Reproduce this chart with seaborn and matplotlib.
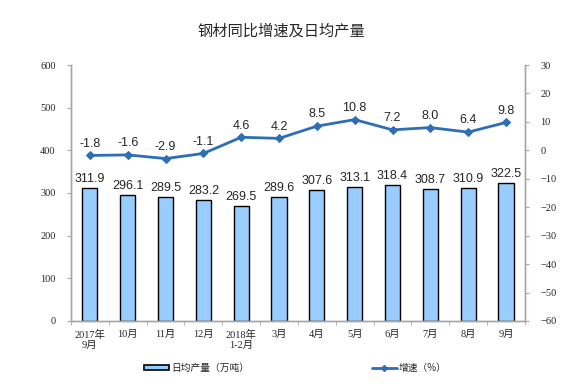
import numpy as np
import pandas as pd
import seaborn as sns
from matplotlib import pyplot as plt
from matplotlib.patches import Patch
from matplotlib.lines import Line2D

# data
months = ['2017年\n9月', '10月', '11月', '12月', '2018年\n1-2月', '3月', '4月',
          '5月', '6月', '7月', '8月', '9月']
output = [311.9, 296.1, 289.5, 283.2, 269.5, 289.6, 307.6, 313.1, 318.4, 308.7, 310.9, 322.5]
growth = [-1.8, -1.6, -2.9, -1.1, 4.6, 4.2, 8.5, 10.8, 7.2, 8.0, 6.4, 9.8]

sns.set_style('white')
plt.rcParams['font.family'] = ['Noto Sans CJK SC', 'DejaVu Sans']

df = pd.DataFrame({'month': months, 'pos': np.arange(len(months)),
                   'output': output, 'growth': growth})

fig = plt.figure(figsize=(5.8, 3.86), dpi=100)
ax = fig.add_axes([0.1224, 0.1684, 0.7826, 0.6632])

bar_col = '#99CCFF'
line_col = '#2E6EB5'
grey = '#A6A6A6'

sns.barplot(data=df, x='pos', y='output', color=bar_col, edgecolor='black',
            linewidth=1.0, width=0.4, saturation=1, ax=ax)
for p, v in zip(df['pos'], df['output']):
    ax.text(p, v + 7, f'{v:.1f}', ha='center', va='bottom', fontsize=9,
            family=['Liberation Sans', 'DejaVu Sans'])

ax.set_ylim(0, 600)
ax.set_yticks(range(0, 601, 100))
ax.set_xlim(-0.5, len(months) - 0.5)
ax.set_xticks(df['pos'])
ax.set_xticklabels(months)
ax.set_xlabel('')
ax.set_ylabel('')

ax2 = ax.twinx()
sns.lineplot(data=df, x='pos', y='growth', color=line_col, marker='D',
             markersize=4.5, markeredgecolor=line_col, linewidth=2, ax=ax2)
for p, v in zip(df['pos'], df['growth']):
    ax2.text(p, v + 2.0, f'{v:.1f}', ha='center', va='bottom', fontsize=9,
             family=['Liberation Sans', 'DejaVu Sans'])
ax2.set_ylim(-60, 30)
ax2.set_yticks(range(-60, 31, 10))
ax2.set_ylabel('')
ax2.set_xlabel('')

for a in (ax, ax2):
    a.spines['top'].set_visible(False)
    for s in ('left', 'right', 'bottom'):
        a.spines[s].set_color(grey)
        a.spines[s].set_linewidth(1)

ax.tick_params(axis='y', left=True, length=3, color=grey, labelsize=7.5, pad=8)
ax2.tick_params(axis='y', right=True, length=3, color=grey, labelsize=7.5, pad=8)
for lab in ax.get_yticklabels() + ax2.get_yticklabels():
    lab.set_family(['Liberation Serif', 'DejaVu Serif'])

# x ticks: labels at centres, small marks at category boundaries
ax.tick_params(axis='x', bottom=False, labelsize=7.5, pad=3)
ax.set_xticks(np.arange(-0.5, len(months), 1), minor=True)
ax.tick_params(axis='x', which='minor', bottom=True, length=3, color=grey)
for lab in ax.get_xticklabels():
    lab.set_family(['Liberation Serif', 'Noto Sans CJK SC'])
    lab.set_linespacing(1.1)

fig.text(0.485, 0.92, '钢材同比增速及日均产量', ha='center', va='center', fontsize=11)

handles = [Patch(facecolor=bar_col, edgecolor='black', linewidth=1.2),
           Line2D([0], [0], color=line_col, marker='D', markersize=3, linewidth=2)]
fig.legend(handles, ['日均产量（万吨）', '增速（%）'], loc='center left',
           bbox_to_anchor=(144 / 580, 1 - 368 / 386), ncol=2, frameon=False,
           fontsize=7, borderpad=0, borderaxespad=0, columnspacing=12.6,
           handlelength=2.6, handleheight=0.5, handletextpad=0.2)

fig.savefig('out.png', dpi=100)
